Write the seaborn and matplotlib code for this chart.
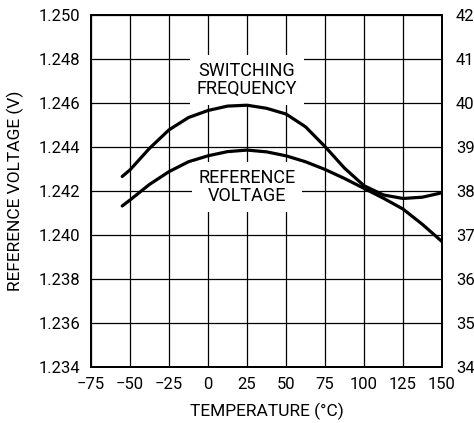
import seaborn as sns
import matplotlib.pyplot as plt
import pandas as pd

# Values
temperature = [-55, -50, -37.5, -25, -12.5, 0, 12.5, 25, 37.5, 50, 62.5, 75, 87.5, 100, 112.5, 125, 137.5, 150]
ref_voltage = [1.24132, 1.24159, 1.24230, 1.24288, 1.24333, 1.24360, 1.24379, 1.24386, 1.24378, 1.24360,
               1.24333, 1.24298, 1.24257, 1.24212, 1.24167, 1.24118, 1.24048, 1.23970]
sw_freq = [38.33, 38.48, 38.97, 39.39, 39.67, 39.83, 39.93, 39.95, 39.88, 39.75,
           39.46, 39.01, 38.52, 38.12, 37.91, 37.83, 37.86, 37.96]

x_ticks = [-75, -50, -25, 0, 25, 50, 75, 100, 125, 150]
x_tick_labels = ['\u221275', '\u221250', '\u221225', '0', '25', '50', '75', '100', '125', '150']
left_ticks = [1.234, 1.236, 1.238, 1.240, 1.242, 1.244, 1.246, 1.248, 1.250]
right_ticks = [34, 35, 36, 37, 38, 39, 40, 41, 42]

df = pd.DataFrame({'temp': temperature, 'vref': ref_voltage, 'freq': sw_freq})

sns.set_style('white')
plt.rcParams['font.family'] = ['Roboto', 'DejaVu Sans']
plt.rcParams['text.color'] = 'black'
plt.rcParams['axes.labelcolor'] = 'black'
plt.rcParams['xtick.color'] = 'black'
plt.rcParams['ytick.color'] = 'black'

fig = plt.figure(figsize=(4.74, 4.23), dpi=100)
ax = fig.add_axes([0.192, 0.1324, 0.7405, 0.8321])

sns.lineplot(data=df, x='temp', y='vref', ax=ax, color='black', linewidth=2.3)
ax.set_xlim(-75, 150)
ax.set_ylim(1.234, 1.250)
ax.set_xticks(x_ticks)
ax.set_xticklabels(x_tick_labels)
ax.set_yticks(left_ticks)
ax.set_yticklabels([f'{v:.3f}' for v in left_ticks])
ax.grid(True, color='black', linewidth=0.9)
ax.set_axisbelow(True)
ax.tick_params(length=0, labelsize=12)
ax.tick_params(axis='x', pad=7)
ax.tick_params(axis='y', pad=8)
ax.set_xlabel('TEMPERATURE (\u00b0C)', fontsize=12.5, labelpad=8)
ax.set_ylabel('REFERENCE VOLTAGE (V)', fontsize=12.5, labelpad=10)

ax2 = ax.twinx()
sns.lineplot(data=df, x='temp', y='freq', ax=ax2, color='black', linewidth=2.3)
ax2.set_ylim(34, 42)
ax2.set_yticks(right_ticks)
ax2.set_ylabel('')
ax2.tick_params(length=0, labelsize=12, pad=10)

for a in (ax, ax2):
    for s in a.spines.values():
        s.set_color('black')
        s.set_linewidth(1.4)

box = dict(facecolor='white', edgecolor='none', pad=5)
ax.text(25, 1.24705, 'SWITCHING\nFREQUENCY', ha='center', va='center', fontsize=13,
        linespacing=1.05, bbox=box, zorder=5)
ax.text(25, 1.24218, 'REFERENCE\nVOLTAGE', ha='center', va='center', fontsize=13,
        linespacing=1.05, bbox=box, zorder=5)

fig.savefig('out.png', dpi=100)
